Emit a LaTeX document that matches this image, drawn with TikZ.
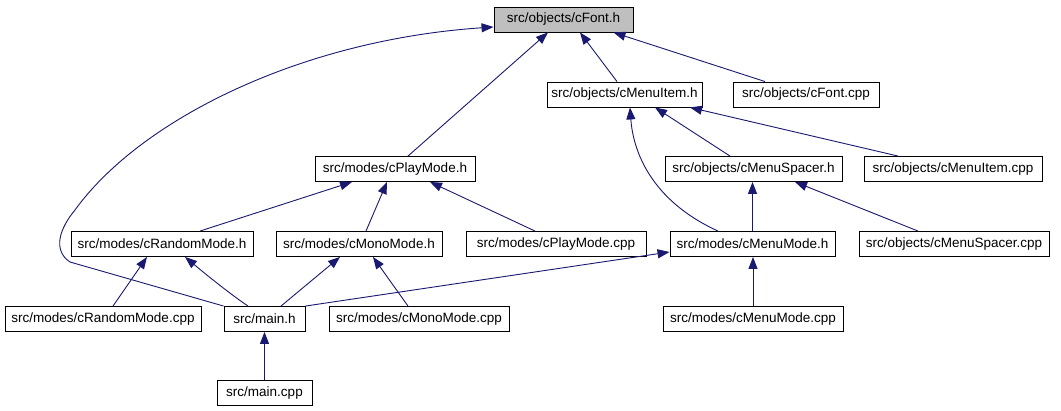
\documentclass[tikz,border=0pt]{standalone}
\usepackage{fontspec}
\setmainfont{Liberation Sans}
\usetikzlibrary{arrows.meta}
\definecolor{edgeblue}{HTML}{191970}
\definecolor{hlgrey}{HTML}{BFBFBF}
\tikzset{
  fbox/.style={draw=black, line width=0.9pt, fill=white, inner sep=0pt, minimum height=25pt,
    font=\fontsize{13.5}{16}\selectfont},
  hl/.style={fill=hlgrey},
  dep/.style={draw=edgeblue, line width=0.9pt, -{Triangle[length=12pt,width=9pt,fill=edgeblue]}}
}
\begin{document}
\begin{tikzpicture}[x=1pt,y=-1pt]
\useasboundingbox[fill=white] (0,0) rectangle (1061,411);
% row 1
\node[fbox,hl,minimum width=139pt] (cfonth) at (563.5,19.5) {src/objects/cFont.h};
% row 2
\node[fbox,minimum width=155pt] (menuitemh) at (624.5,94.5) {src/objects/cMenuItem.h};
\node[fbox,minimum width=146pt] (cfontcpp) at (806,94.5) {src/objects/cFont.cpp};
% row 3
\node[fbox,minimum width=160pt] (playh) at (395,169) {src/modes/cPlayMode.h};
\node[fbox,minimum width=177pt] (spacerh) at (753.5,169) {src/objects/cMenuSpacer.h};
\node[fbox,minimum width=178pt] (menuitemcpp) at (953,169) {src/objects/cMenuItem.cpp};
% row 4
\node[fbox,minimum width=182pt] (randomh) at (162,244) {src/modes/cRandomMode.h};
\node[fbox,minimum width=166pt] (monoh) at (359,244) {src/modes/cMonoMode.h};
\node[fbox,minimum width=180pt] (playcpp) at (556,244) {src/modes/cPlayMode.cpp};
\node[fbox,minimum width=165pt] (menumodeh) at (752.5,244) {src/modes/cMenuMode.h};
\node[fbox,minimum width=190pt] (spacercpp) at (954,244) {src/objects/cMenuSpacer.cpp};
% row 5
\node[fbox,minimum width=196pt] (randomcpp) at (103,319) {src/modes/cRandomMode.cpp};
\node[fbox,minimum width=81pt] (mainh) at (264.5,319) {src/main.h};
\node[fbox,minimum width=180pt] (monocpp) at (419,319) {src/modes/cMonoMode.cpp};
\node[fbox,minimum width=180pt] (menumodecpp) at (753,319) {src/modes/cMenuMode.cpp};
% row 6
\node[fbox,minimum width=95pt] (maincpp) at (264.5,393) {src/main.cpp};

% edges
\draw[dep] ([xshift=-7.5pt]menuitemh.north) -- ([xshift=16.5pt]cfonth.south);
\draw[dep] ([xshift=-41pt]cfontcpp.north) -- ([xshift=50pt]cfonth.south);
\draw[dep] ([xshift=13pt]playh.north) -- ([xshift=-15.5pt]cfonth.south);
\draw[dep] (mainh.north west) -- (70,262) .. controls (52,250) and (60,228) .. (75,210)
   .. controls (140,120) and (300,40) .. ([yshift=-7.5pt]cfonth.west);
\draw[dep] ([xshift=-23.5pt]spacerh.north) -- ([xshift=30.5pt]menuitemh.south);
\draw[dep] ([xshift=-55pt]menuitemcpp.north) -- ([xshift=65.5pt]menuitemh.south);
\draw[dep] ([xshift=-34.5pt]menumodeh.north) .. controls (650,200) and (633,150) .. ([xshift=5.5pt]menuitemh.south);
\draw[dep] ([xshift=38pt]randomh.north) -- ([xshift=-43pt]playh.south);
\draw[dep] ([xshift=7pt]monoh.north) -- ([xshift=-8pt]playh.south);
\draw[dep] ([xshift=-21pt]playcpp.north) -- ([xshift=35pt]playh.south);
\draw[dep] (menumodeh.north) -- (menumodeh.north |- spacerh.south);
\draw[dep] ([xshift=-36pt]spacercpp.north) -- ([xshift=41.5pt]spacerh.south);
\draw[dep] ([xshift=10pt]randomcpp.north) -- ([xshift=-15pt]randomh.south);
\draw[dep] ([xshift=-16.5pt]mainh.north) .. controls (236,298) and (215,282) .. ([xshift=23pt]randomh.south);
\draw[dep] ([xshift=16.5pt]mainh.north) -- ([xshift=-19pt]monoh.south);
\draw[dep] ([xshift=-11pt]monocpp.north) -- ([xshift=14pt]monoh.south);
\draw[dep] (mainh.north east) -- ([yshift=-8pt]menumodeh.west);
\draw[dep] (menumodecpp.north) -- (menumodecpp.north |- menumodeh.south);
\draw[dep] (maincpp.north) -- (mainh.south);
\end{tikzpicture}
\end{document}
